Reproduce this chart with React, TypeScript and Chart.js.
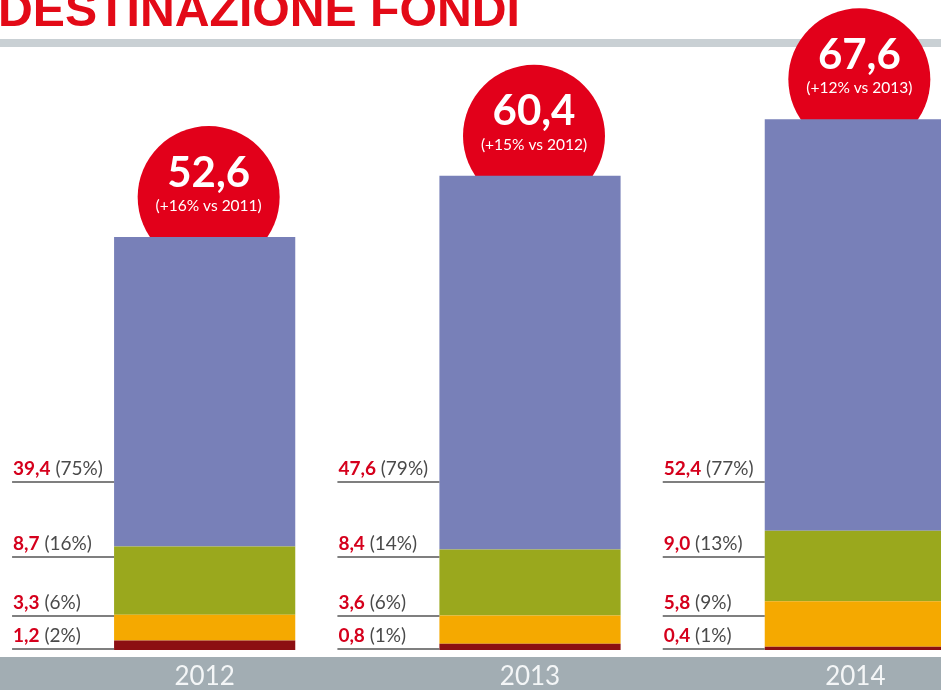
import React, { useEffect, useRef } from "react";
import { Chart, registerables } from "chart.js";

Chart.register(...registerables);

const years = ["2012", "2013", "2014"];
const altroValues = [1.2, 0.8, 0.4];
const arancioValues = [3.3, 3.6, 5.8];
const verdeValues = [8.7, 8.4, 9.0];
const bluValues = [39.4, 47.6, 52.4];

const altroShares = ["2%", "1%", "1%"];
const arancioShares = ["6%", "6%", "9%"];
const verdeShares = ["16%", "14%", "13%"];
const bluShares = ["75%", "79%", "77%"];

const totalLabels = ["52,6", "60,4", "67,6"];
const growthLabels = ["(+16% vs 2011)", "(+15% vs 2012)", "(+12% vs 2013)"];

const TITLE = "DESTINAZIONE FONDI";

const fmt = (v: number) => v.toFixed(1).replace(".", ",");

const decorPlugin = {
  id: "decor",
  beforeDatasetsDraw(chart: any) {
    const ctx = chart.ctx;
    const W = chart.width;
    const bottom = chart.chartArea.bottom;
    ctx.save();
    // title
    ctx.font = 'bold 49px "Liberation Sans"';
    const tw = ctx.measureText(TITLE).width;
    ctx.fillStyle = "#e30a17";
    ctx.textBaseline = "alphabetic";
    ctx.textAlign = "left";
    ctx.save();
    ctx.translate(-2, 26);
    ctx.scale(522 / tw, 1);
    ctx.fillText(TITLE, 0, 0);
    ctx.restore();
    // gray rule
    ctx.fillStyle = "#c9d0d4";
    ctx.fillRect(0, 39, W, 8);
    // bottom band
    ctx.fillStyle = "#a2adb3";
    ctx.fillRect(0, bottom + 7, W, chart.height - bottom - 7);
    // circles
    const topMeta = chart.getDatasetMeta(chart.data.datasets.length - 1);
    topMeta.data.forEach((el: any, i: number) => {
      const cx = el.x + 4;
      const cy = el.y - 40;
      ctx.beginPath();
      ctx.arc(cx, cy, 71, 0, Math.PI * 2);
      ctx.fillStyle = "#e2001a";
      ctx.fill();
      ctx.fillStyle = "#ffffff";
      ctx.textAlign = "center";
      ctx.textBaseline = "middle";
      ctx.font = 'bold 42px "Lato"';
      ctx.fillText(totalLabels[i], cx, cy - 24);
      ctx.font = '15.5px "Lato"';
      ctx.fillText(growthLabels[i], cx, cy + 9);
    });
    // year labels
    ctx.fillStyle = "#f4f6f7";
    ctx.font = '26px "Lato"';
    ctx.textAlign = "center";
    ctx.textBaseline = "middle";
    topMeta.data.forEach((el: any, i: number) => {
      ctx.fillText(years[i], el.x, bottom + 27);
    });
    ctx.restore();
  },
  afterDatasetsDraw(chart: any) {
    const ctx = chart.ctx;
    const bottom = chart.chartArea.bottom;
    const meta = chart.getDatasetMeta(0);
    const rows = [
      { off: -168, vals: bluValues, shares: bluShares },
      { off: -93, vals: verdeValues, shares: verdeShares },
      { off: -34, vals: arancioValues, shares: arancioShares },
      { off: -1, vals: altroValues, shares: altroShares },
    ];
    ctx.save();
    meta.data.forEach((el: any, i: number) => {
      const left = el.x - el.width / 2;
      const x0 = left - 102;
      rows.forEach((r) => {
        const y = bottom + r.off;
        ctx.strokeStyle = "#555555";
        ctx.lineWidth = 1.5;
        ctx.beginPath();
        ctx.moveTo(x0, y);
        ctx.lineTo(left, y);
        ctx.stroke();
        ctx.textAlign = "left";
        ctx.textBaseline = "alphabetic";
        ctx.font = 'bold 19px "Lato"';
        ctx.fillStyle = "#d5001c";
        const vt = fmt(r.vals[i]);
        ctx.fillText(vt, x0 + 1, y - 7);
        const vw = ctx.measureText(vt).width;
        ctx.font = '19px "Lato"';
        ctx.fillStyle = "#4a4a4a";
        ctx.fillText(" (" + r.shares[i] + ")", x0 + 1 + vw, y - 7);
      });
    });
    ctx.restore();
  },
};

export default function App() {
  const ref = useRef<HTMLCanvasElement | null>(null);
  useEffect(() => {
    if (!ref.current) return;
    const chart = new Chart(ref.current, {
      type: "bar",
      data: {
        labels: years,
        datasets: [
          { label: "Altro", data: altroValues, backgroundColor: "#8c0f12" },
          { label: "Arancio", data: arancioValues, backgroundColor: "#f5a900" },
          { label: "Verde", data: verdeValues, backgroundColor: "#9aa81d" },
          { label: "Blu", data: bluValues, backgroundColor: "#7880b8" },
        ],
      },
      options: {
        responsive: false,
        animation: false,
        maintainAspectRatio: false,
        layout: { padding: { left: 42, right: 12, top: 0, bottom: 40 } },
        datasets: { bar: { categoryPercentage: 181 / 325, barPercentage: 1, borderWidth: 0 } },
        scales: {
          x: { display: false, stacked: true },
          y: { display: false, stacked: true, min: 0, max: 650 / 7.85 },
        },
        plugins: { legend: { display: false }, tooltip: { enabled: false } },
      },
      plugins: [decorPlugin],
    });
    return () => chart.destroy();
  }, []);
  return (
    <div
      style={{
        position: "absolute",
        left: 0,
        top: 0,
        width: 941,
        height: 690,
        overflow: "hidden",
        background: "#ffffff",
      }}
    >
      <canvas ref={ref} width={1030} height={690} style={{ width: 1030, height: 690, display: "block" }} />
    </div>
  );
}
